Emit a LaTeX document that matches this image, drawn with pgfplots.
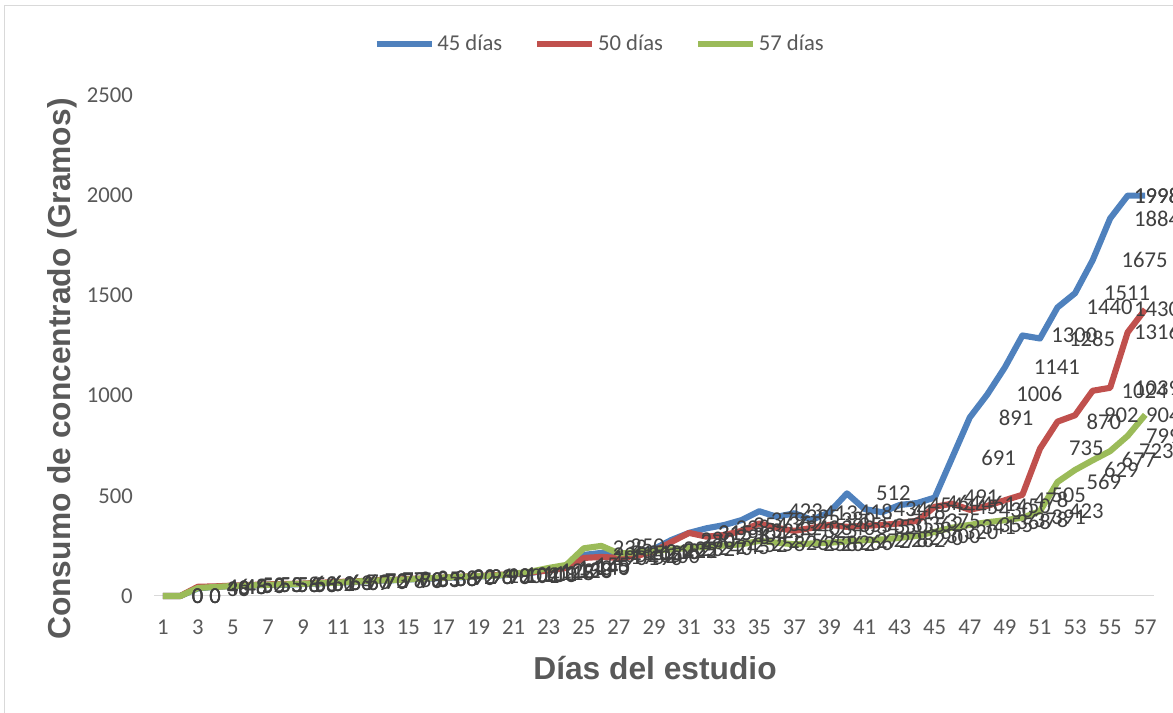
\documentclass[border=0pt]{standalone}
\usepackage{fontspec}
\setmainfont{Carlito}
\newfontfamily\titlefont{Liberation Sans}
\usepackage{pgfplots}
\usepackage{pgfplotstable}
\pgfplotsset{compat=1.18}
\definecolor{c45}{HTML}{4F81BD}
\definecolor{c50}{HTML}{C0504D}
\definecolor{c57}{HTML}{9BBB59}
\definecolor{tickgray}{HTML}{595959}
\definecolor{labgray}{HTML}{404040}
\definecolor{axgray}{HTML}{D9D9D9}

\pgfplotstableread{
day val dx
1 0 19.5
2 0 19.5
3 38 19.5
4 46 19.5
5 50 19.5
6 53 19.5
7 56 19.5
8 56 19.5
9 60 19.5
10 63 19.5
11 67 19.5
12 70 19.5
13 77 19.5
14 78 19.5
15 83 19.5
16 86 19.5
17 90 19.5
18 93 19.5
19 98 19.5
20 101 19.5
21 108 19.5
22 115 19.5
23 130 19.5
24 145 19.5
25 205 19.5
26 215 19.5
27 205 19.5
28 218 19.5
29 235 19.5
30 280 19.5
31 315 19.5
32 338 19.5
33 354 19.5
34 379 19.5
35 423 19.5
36 395 19.5
37 413 19.5
38 380 19.5
39 418 19.5
40 512 19.5
41 434 19.5
42 418 19.5
43 454 19.5
44 464 19.5
45 491 19.5
46 691 19.5
47 891 19.5
48 1006 19.5
49 1141 19.5
50 1300 19.5
51 1285 19.5
52 1440 19.5
53 1511 19.5
54 1675 19.5
55 1884 15.75
56 1998 2.5
57 1998 -10.65
}\tblA

\pgfplotstableread{
day val dx
1 0 19.5
2 0 19.5
3 46 19.5
4 48 19.5
5 52 19.5
6 55 19.5
7 58 19.5
8 60 19.5
9 62 19.5
10 66 19.5
11 70 19.5
12 73 19.5
13 78 19.5
14 80 19.5
15 85 19.5
16 88 19.5
17 92 19.5
18 96 19.5
19 100 19.5
20 104 19.5
21 110 19.5
22 118 19.5
23 128 19.5
24 140 19.5
25 190 19.5
26 195 19.5
27 190 19.5
28 200 19.5
29 222 19.5
30 270 19.5
31 315 19.5
32 296 19.5
33 304 19.5
34 325 19.5
35 362 19.5
36 340 19.5
37 325 19.5
38 340 19.5
39 355 19.5
40 345 19.5
41 350 19.5
42 355 19.5
43 362 19.5
44 375 19.5
45 445 19.5
46 461 19.5
47 430 19.5
48 450 19.5
49 478 19.5
50 505 19.5
51 735 19.5
52 870 19.5
53 902 19.5
54 1024 19.5
55 1039 15.75
56 1316 2.5
57 1430 -10.65
}\tblB

\pgfplotstableread{
day val dx
1 0 19.5
2 0 19.5
3 40 19.5
4 45 19.5
5 50 19.5
6 53 19.5
7 56 19.5
8 58 19.5
9 61 19.5
10 64 19.5
11 67 19.5
12 72 19.5
13 77 19.5
14 79 19.5
15 83 19.5
16 88 19.5
17 92 19.5
18 96 19.5
19 99 19.5
20 102 19.5
21 111 19.5
22 122 19.5
23 140 19.5
24 155 19.5
25 238 19.5
26 250 19.5
27 212 19.5
28 218 19.5
29 225 19.5
30 232 19.5
31 240 19.5
32 245 19.5
33 252 19.5
34 258 19.5
35 275 19.5
36 266 19.5
37 258 19.5
38 262 19.5
39 266 19.5
40 272 19.5
41 278 19.5
42 282 19.5
43 290 19.5
44 300 19.5
45 320 19.5
46 341 19.5
47 355 19.5
48 368 19.5
49 378 19.5
50 391 19.5
51 423 19.5
52 569 19.5
53 629 19.5
54 677 19.5
55 723 19.5
56 799 11.5
57 904 -1.65
}\tblC

\begin{document}
\begin{tikzpicture}[x=1pt,y=1pt]
\path[use as bounding box] (0,0) rectangle (879.75,534.75);
\clip (0,0) rectangle (879.75,534.75);
\draw[axgray, line width=0.75pt] (3,-5) -- (3,530.25) -- (900,530.25);
\begin{axis}[
  at={(115.5pt,87.75pt)}, anchor=south west,
  scale only axis, width=750pt, height=375.75pt,
  xmin=0.5, xmax=57.5, ymin=0, ymax=2500,
  clip=false,
  axis x line*=bottom, axis y line*=left,
  x axis line style={draw=axgray, line width=0.75pt},
  y axis line style={draw=none},
  xtick={1,3,...,57}, ytick={0,500,...,2500},
  major tick length=0pt,
  /pgf/number format/1000 sep={},
  /pgf/number format/assume math mode=true,
  tick label style={font=\fontsize{17}{20}\selectfont, text=tickgray},
  xticklabel style={anchor=center, yshift=-23.25pt},
  yticklabel style={anchor=east, inner sep=0pt, xshift=-15.75pt},
  xlabel={Días del estudio},
  ylabel={Consumo de concentrado (Gramos)},
  xlabel style={at={(rel axis cs:0.501,-0.144)}, anchor=center, font=\titlefont\bfseries\fontsize{23.8}{28}\selectfont, text=tickgray},
  ylabel style={at={(rel axis cs:-0.092,0.453)}, anchor=center, font=\titlefont\bfseries\fontsize{23.8}{28}\selectfont, text=tickgray},
  legend style={at={(rel axis cs:0.446,1.102)}, anchor=center, draw=none, fill=none,
    font=\fontsize{17}{20}\selectfont, text=tickgray, cells={anchor=west},
    /tikz/every even column/.append style={column sep=22pt}},
  legend columns=3,
  legend image code/.code={\draw[#1, line width=4.6pt] (0pt,0pt) -- (41.25pt,0pt);},
  every node near coord/.append style={anchor=west, inner sep=0pt, xshift=\dx pt, font=\fontsize{17}{20}\selectfont, text=labgray},
]
\addplot[c45, line width=4.6pt, line join=round, nodes near coords, point meta=\thisrow{val},
  visualization depends on={\thisrow{dx} \as \dx}] table[x=day,y=val]{\tblA};
\addlegendentry{45 días}
\addplot[c50, line width=4.6pt, line join=round, nodes near coords, point meta=\thisrow{val},
  visualization depends on={\thisrow{dx} \as \dx}] table[x=day,y=val]{\tblB};
\addlegendentry{50 días}
\addplot[c57, line width=4.6pt, line join=round, nodes near coords, point meta=\thisrow{val},
  visualization depends on={\thisrow{dx} \as \dx}] table[x=day,y=val]{\tblC};
\addlegendentry{57 días}
\end{axis}
\end{tikzpicture}
\end{document}
